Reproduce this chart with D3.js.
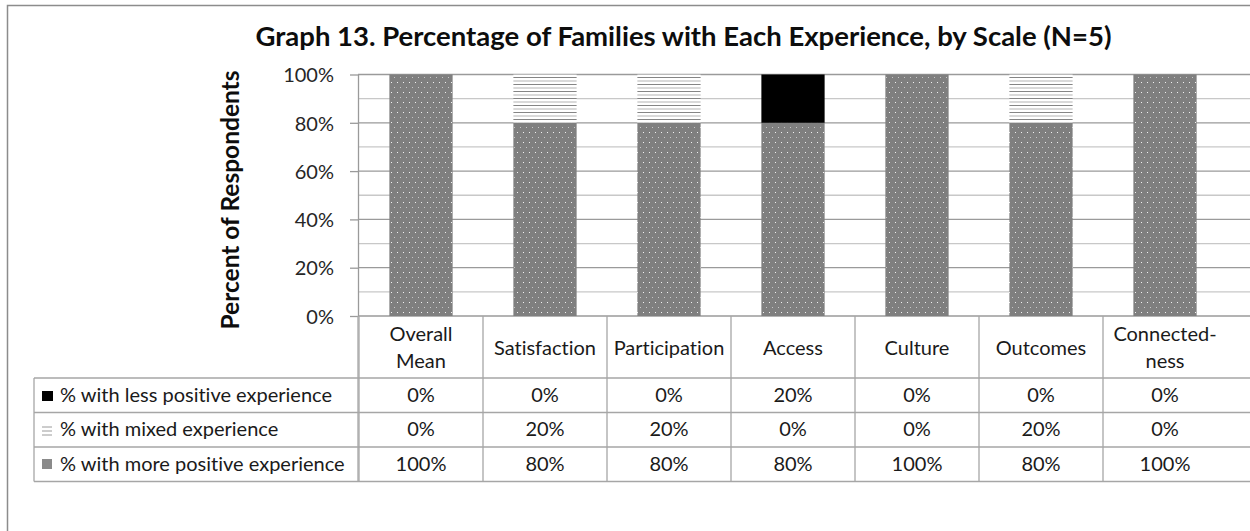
<!DOCTYPE html>
<html>
<head>
<meta charset="utf-8">
<script src="https://cdn.jsdelivr.net/npm/d3@7/dist/d3.min.js"></script>
<style>
  html, body { margin: 0; padding: 0; background: #fff; }
  svg { display: block; font-family: Lato, "Open Sans", sans-serif; font-variant-ligatures: none; }
</style>
</head>
<body>
<div id="chart"></div>
<script>
// values
var categories = ["Overall Mean", "Satisfaction", "Participation", "Access", "Culture", "Outcomes", "Connectedness"];
var categoryLines = [["Overall", "Mean"], ["Satisfaction"], ["Participation"], ["Access"], ["Culture"], ["Outcomes"], ["Connected-", "ness"]];
var seriesNames = ["% with less positive experience", "% with mixed experience", "% with more positive experience"];
var lessPositive = [0, 0, 0, 20, 0, 0, 0];
var mixed = [0, 20, 20, 0, 0, 20, 0];
var morePositive = [100, 80, 80, 80, 100, 80, 100];
var yTicks = [0, 20, 40, 60, 80, 100];
var yMinor = [10, 30, 50, 70, 90];

(function stackedChart(){
    var width = 1250, height = 531;
    var plotLeft = 358, plotTop = 74.5, plotBottom = 316;
    var rowTops = [378, 412.5, 447, 481.5];

    var svg = d3.select('#chart')
        .append('svg')
            .attr('width', width)
            .attr('height', height);

    svg.append('rect').attr('width', width).attr('height', height).attr('fill', '#fff');

    var defs = svg.append('defs');
    var dots = defs.append('pattern')
        .attr('id', 'dots')
        .attr('patternUnits', 'userSpaceOnUse')
        .attr('width', 6).attr('height', 10);
    dots.append('rect').attr('width', 6).attr('height', 10).attr('fill', '#7f7f7f');
    dots.append('rect').attr('x', 1).attr('y', 2).attr('width', 1).attr('height', 1).attr('fill', '#f2f2f2');
    dots.append('rect').attr('x', 4).attr('y', 7).attr('width', 1).attr('height', 1).attr('fill', '#c8c8c8');

    var hatch = defs.append('pattern')
        .attr('id', 'hatch')
        .attr('patternUnits', 'userSpaceOnUse')
        .attr('width', 8).attr('height', 7);
    hatch.append('rect').attr('width', 8).attr('height', 7).attr('fill', '#fff');
    hatch.append('rect').attr('y', 0).attr('width', 8).attr('height', 1).attr('fill', '#858585');
    hatch.append('rect').attr('y', 3.5).attr('width', 8).attr('height', 1).attr('fill', '#b4b4b4');

    var fills = ['#000', 'url(#hatch)', 'url(#dots)'];

    // outer chart border (clipped on right and bottom)
    svg.append('path')
        .attr('d', 'M7.5,' + height + 'V5.5H' + width)
        .attr('fill', 'none')
        .attr('stroke', '#8c8c8c')
        .attr('stroke-width', 1.5);

    var x = d3.scaleBand()
        .domain(categories)
        .range([plotLeft + 1, 1227])
        .paddingInner(0.49)
        .paddingOuter(0.245);

    var y = d3.scaleLinear()
        .domain([0, 100])
        .range([plotBottom, plotTop]);

    // gridlines
    svg.append('g').selectAll('line')
        .data(yMinor)
        .enter().append('line')
            .attr('x1', plotLeft).attr('x2', width)
            .attr('y1', d => y(d)).attr('y2', d => y(d))
            .attr('stroke', '#c8c8c8').attr('stroke-width', 1.3);
    svg.append('g').selectAll('line')
        .data(yTicks)
        .enter().append('line')
            .attr('x1', plotLeft).attr('x2', width)
            .attr('y1', d => y(d)).attr('y2', d => y(d))
            .attr('stroke', '#9a9a9a').attr('stroke-width', 1.3);

    // stacked bars: more positive at the bottom
    var rows = categories.map((c, i) => ({cat: c, less: lessPositive[i], mixed: mixed[i], more: morePositive[i]}));
    var stack = d3.stack().keys(['more', 'mixed', 'less'])(rows);
    var fillFor = {more: fills[2], mixed: fills[1], less: fills[0]};

    svg.append('g').selectAll('g')
        .data(stack)
        .enter().append('g')
            .attr('fill', d => fillFor[d.key])
        .selectAll('rect')
        .data(d => d)
        .enter().append('rect')
            .attr('x', d => x(d.data.cat))
            .attr('width', x.bandwidth())
            .attr('y', d => y(d[1]))
            .attr('height', d => y(d[0]) - y(d[1]));

    // y axis
    var yAxis = d3.axisLeft(y)
        .tickValues(yTicks)
        .tickFormat(d => d + '%')
        .tickSize(8)
        .tickSizeOuter(0)
        .tickPadding(16);
    var yg = svg.append('g')
        .attr('transform', 'translate(' + plotLeft + ',0)')
        .call(yAxis);
    yg.select('.domain').attr('stroke', '#9a9a9a').attr('stroke-width', 1.3);
    yg.selectAll('.tick line').attr('stroke', '#9a9a9a').attr('stroke-width', 1.3);
    yg.selectAll('.tick text')
        .attr('fill', '#262626')
        .style('font-family', 'Lato, sans-serif')
        .style('font-size', '20px')
        .attr('dy', '0.36em');

    // axis title
    svg.append('text')
        .attr('transform', 'translate(239,200) rotate(-90)')
        .attr('text-anchor', 'middle')
        .style('font-size', '24.5px')
        .style('font-weight', 'bold')
        .attr('fill', '#0d0d0d')
        .text('Percent of Respondents');

    // chart title
    svg.append('text')
        .attr('x', 683.5).attr('y', 46)
        .attr('text-anchor', 'middle')
        .style('font-size', '27.5px')
        .style('font-weight', 'bold')
        .attr('fill', '#0d0d0d')
        .text('Graph 13. Percentage of Families with Each Experience, by Scale (N=5)');

    // data table
    var table = svg.append('g');
    var lineColor = '#a6a6a6';
    var step = x.step();
    var colEdges = d3.range(categories.length).map(i => x.range()[0] + i * step);

    // horizontal rules
    table.selectAll('.hrule')
        .data(rowTops)
        .enter().append('line')
            .attr('x1', 34).attr('x2', width)
            .attr('y1', d => d).attr('y2', d => d)
            .attr('stroke', lineColor).attr('stroke-width', 1.3);
    // left border of legend column
    table.append('line')
        .attr('x1', 34).attr('x2', 34)
        .attr('y1', rowTops[0]).attr('y2', rowTops[3])
        .attr('stroke', lineColor).attr('stroke-width', 1.3);
    // column borders
    table.selectAll('.vrule')
        .data(colEdges)
        .enter().append('line')
            .attr('x1', d => d).attr('x2', d => d)
            .attr('y1', plotBottom).attr('y2', rowTops[3])
            .attr('stroke', lineColor).attr('stroke-width', 1.3);
    table.append('line')
        .attr('x1', plotLeft).attr('x2', plotLeft)
        .attr('y1', plotBottom).attr('y2', rowTops[3])
        .attr('stroke', lineColor).attr('stroke-width', 1.3);

    var tableFont = '20px';

    // header labels
    categories.forEach(function(c, i){
        var lines = categoryLines[i];
        var cx = x(c) + x.bandwidth() / 2;
        var t = table.append('text')
            .attr('text-anchor', 'middle')
            .attr('fill', '#1a1a1a')
            .style('font-size', tableFont);
        var base = lines.length === 2 ? 341 : 354.5;
        lines.forEach(function(l, j){
            t.append('tspan').attr('x', cx).attr('y', base + j * 27).text(l);
        });
    });

    // value rows
    var seriesVals = [lessPositive, mixed, morePositive];
    seriesVals.forEach(function(vals, r){
        table.selectAll('.val' + r)
            .data(vals)
            .enter().append('text')
                .attr('x', (d, i) => x(categories[i]) + x.bandwidth() / 2)
                .attr('y', rowTops[r] + 23.5)
                .attr('text-anchor', 'middle')
                .attr('fill', '#1a1a1a')
                .style('font-size', tableFont)
                .text(d => d + '%');
        table.append('text')
            .attr('x', 60).attr('y', rowTops[r] + 23.5)
            .attr('fill', '#1a1a1a')
            .style('font-size', tableFont)
            .text(seriesNames[r]);
    });

    // legend keys
    table.append('rect')
        .attr('x', 42).attr('y', rowTops[0] + 13).attr('width', 11).attr('height', 10)
        .attr('fill', fills[0]);
    table.selectAll('.mixkey')
        .data([0, 4, 8])
        .enter().append('line')
            .attr('x1', 42).attr('x2', 52)
            .attr('y1', d => rowTops[1] + 14.5 + d).attr('y2', d => rowTops[1] + 14.5 + d)
            .attr('stroke', '#9a9a9a').attr('stroke-width', 1);
    table.append('rect')
        .attr('x', 42).attr('y', rowTops[2] + 12).attr('width', 10).attr('height', 10)
        .attr('fill', '#8a8a8a');
}());
</script>
</body>
</html>
